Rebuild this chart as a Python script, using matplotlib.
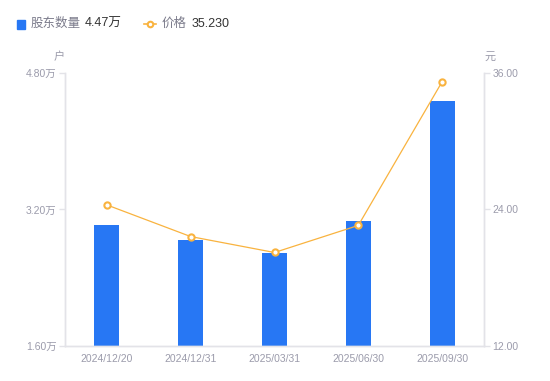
import numpy as np
import matplotlib.pyplot as plt

plt.rcParams['font.family'] = ['Liberation Sans', 'Noto Sans CJK SC', 'DejaVu Sans']

# Data
dates = ['2024/12/20', '2024/12/31', '2025/03/31', '2025/06/30', '2025/09/30']
holders = [3.02, 2.84, 2.69, 3.06, 4.47]       # 万户
price = [24.40, 21.62, 20.22, 22.60, 35.23]    # 元

left_ticks = [1.60, 3.20, 4.80]
right_ticks = [12.00, 24.00, 36.00]

bar_color = '#2777f4'
line_color = '#f9b33f'
axis_color = '#e3e3e8'
label_color = '#9b9bab'

fig = plt.figure(figsize=(5.5, 3.81), dpi=100)
ax = fig.add_axes([0.1182, 0.0919, 0.7618, 0.7165])
ax2 = ax.twinx()

x = np.arange(len(dates))
ax.bar(x, [h - left_ticks[0] for h in holders], bottom=left_ticks[0],
       width=0.3, color=bar_color, zorder=2)
ax.set_xlim(-0.5, len(dates) - 0.5)
ax.set_ylim(left_ticks[0], left_ticks[-1])
ax.set_yticks(left_ticks)
ax.set_yticklabels([f'{v:.2f}万' for v in left_ticks])
ax.set_xticks(x)
ax.set_xticklabels(dates)

ax2.plot(x, price, color=line_color, linewidth=0.9, marker='o', markersize=4.5,
         markerfacecolor='white', markeredgecolor=line_color, markeredgewidth=1.5,
         zorder=3)
ax2.set_ylim(right_ticks[0], right_ticks[-1])
ax2.set_yticks(right_ticks)
ax2.set_yticklabels([f'{v:.2f}' for v in right_ticks])

for a in (ax, ax2):
    a.spines['top'].set_visible(False)
    for side in ('left', 'right', 'bottom'):
        a.spines[side].set_color(axis_color)
        a.spines[side].set_linewidth(1)
    a.tick_params(axis='both', colors=axis_color, labelcolor=label_color,
                  labelsize=7.5, length=4, width=1, pad=2)
ax.tick_params(axis='x', length=0, pad=6)
ax2.set_zorder(ax.get_zorder() + 1)
ax2.patch.set_visible(False)

# unit labels
fig.text(59 / 550, 1 - 57 / 381, '户', color=label_color, fontsize=8,
         ha='center', va='center')
fig.text(490 / 550, 1 - 57 / 381, '元', color=label_color, fontsize=8,
         ha='center', va='center')

# legend drawn as text
fig.patches.append(plt.Rectangle((17 / 550, 1 - 29 / 381), 8 / 550, 9 / 381,
                                 transform=fig.transFigure, color=bar_color))
fig.text(31 / 550, 1 - 24 / 381, '股东数量', color='#7b7b8b', fontsize=9, va='center')
fig.text(85 / 550, 1 - 24 / 381, f'{holders[-1]:.2f}万', color='#333333',
         fontsize=9, va='center')
fig.lines.append(plt.Line2D([144 / 550, 156 / 550], [1 - 24 / 381] * 2,
                            transform=fig.transFigure, color=line_color, lw=1.2))
fig.lines.append(plt.Line2D([150 / 550], [1 - 24 / 381], transform=fig.transFigure,
                            marker='o', markersize=4, markerfacecolor='white',
                            markeredgecolor=line_color, markeredgewidth=1.5))
fig.text(162 / 550, 1 - 24 / 381, '价格', color='#7b7b8b', fontsize=9, va='center')
fig.text(192 / 550, 1 - 24 / 381, f'{price[-1]:.3f}', color='#333333',
         fontsize=9, va='center')

plt.savefig('out.png', dpi=100)
